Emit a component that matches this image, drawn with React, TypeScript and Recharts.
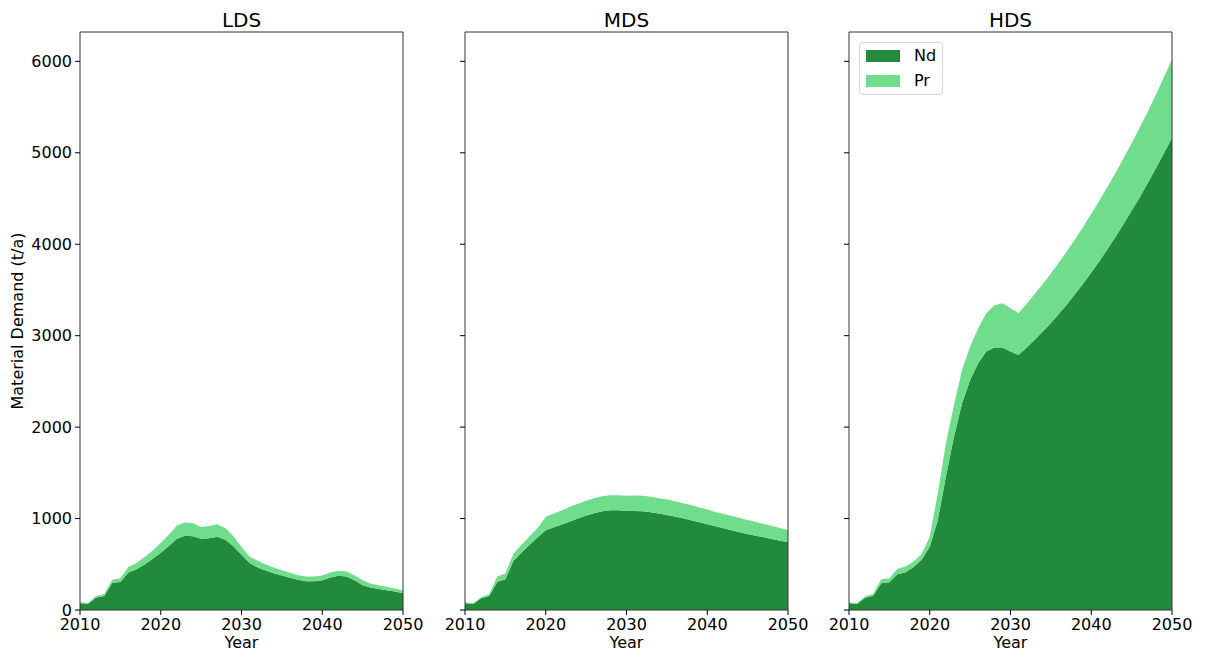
import React from 'react';
import { AreaChart, Area, XAxis, YAxis, Legend } from 'recharts';

// Material demand for Nd and Pr (t/a) under three demand scenarios.
const years = [
  2010, 2011, 2012, 2013, 2014, 2015, 2016, 2017, 2018, 2019,
  2020, 2021, 2022, 2023, 2024, 2025, 2026, 2027, 2028, 2029,
  2030, 2031, 2032, 2033, 2034, 2035, 2036, 2037, 2038, 2039,
  2040, 2041, 2042, 2043, 2044, 2045, 2046, 2047, 2048, 2049, 2050,
];

const ldsNd = [
  73, 68, 138, 152, 297, 305, 410, 447, 498, 560,
  626, 700, 780, 813, 806, 780, 784, 802, 769, 696,
  604, 513, 465, 432, 403, 377, 352, 330, 315, 315,
  326, 355, 374, 366, 326, 271, 245, 231, 216, 201, 183,
];
const ldsPr = [
  11, 9, 16, 24, 33, 43, 59, 66, 81, 92,
  107, 124, 143, 143, 143, 128, 135, 136, 125, 110,
  85, 73, 73, 66, 62, 59, 55, 51, 51, 51,
  51, 55, 55, 55, 55, 55, 41, 40, 37, 33, 29,
];

const mdsNd = [
  73, 66, 128, 154, 308, 337, 538, 630, 714, 795,
  872, 905, 934, 967, 1000, 1033, 1059, 1081, 1092, 1092,
  1084, 1084, 1081, 1070, 1055, 1040, 1022, 1004, 982, 960,
  938, 916, 894, 872, 850, 832, 813, 795, 777, 758, 744,
];
const mdsPr = [
  11, 7, 11, 18, 58, 62, 77, 84, 92, 102,
  148, 150, 154, 161, 161, 161, 164, 164, 164, 164,
  165, 169, 168, 168, 168, 169, 168, 164, 165, 161,
  161, 157, 157, 157, 157, 153, 150, 146, 142, 139, 128,
];

const hdsNd = [
  73, 66, 135, 157, 293, 304, 392, 414, 469, 549,
  693, 985, 1459, 1896, 2261, 2516, 2699, 2826, 2870, 2870,
  2826, 2790, 2870, 2955, 3045, 3140, 3240, 3345, 3455, 3570,
  3690, 3815, 3945, 4080, 4220, 4365, 4515, 4670, 4830, 4995, 5165,
];
const hdsPr = [
  11, 7, 15, 19, 44, 44, 59, 62, 62, 63,
  109, 292, 365, 347, 365, 365, 383, 420, 463, 485,
  475, 456, 480, 500, 520, 540, 560, 580, 600, 620,
  640, 660, 680, 700, 720, 740, 760, 780, 805, 830, 855,
];

const xTicks = [2010, 2020, 2030, 2040, 2050];
const yTicks = [0, 1000, 2000, 3000, 4000, 5000, 6000];
const Y_MAX = 6321;

const ND_COLOR = '#228B3B';
const PR_COLOR = '#6FDD8B';
const SPINE = '#333333';
const FONT = '"DejaVu Sans", sans-serif';

const PLOT_W = 323;
const CHART_H = 652;

const renderLegend = (props: any) => {
  const items = props.payload || [];
  return (
    <div
      style={{
        width: 82,
        height: 51,
        border: '1px solid #d6d6d6',
        borderRadius: 4,
        background: 'rgba(255,255,255,0.8)',
        position: 'relative',
        fontFamily: FONT,
        fontSize: 16,
        color: '#000',
      }}
    >
      {items.map((it: any, i: number) => (
        <div key={it.value} style={{ position: 'absolute', left: 6, top: 6 + i * 25, height: 13, display: 'flex', alignItems: 'center' }}>
          <div style={{ width: 34, height: 12, background: it.color }} />
          <span style={{ marginLeft: 14, lineHeight: '13px' }}>{it.value}</span>
        </div>
      ))}
    </div>
  );
};

type PanelProps = {
  title: string;
  nd: number[];
  pr: number[];
  left: number;
  first?: boolean;
  legend?: boolean;
};

const Panel = ({ title, nd, pr, left, first, legend }: PanelProps) => {
  const data = years.map((y, i) => ({ year: y, Nd: nd[i], Pr: pr[i] }));
  const yW = first ? 80 : 20;
  const width = yW + PLOT_W + 20;
  return (
    <div style={{ position: 'absolute', left, top: 0 }}>
      <AreaChart width={width} height={CHART_H} data={data} margin={{ top: 0, right: 0, bottom: 0, left: 0 }}>
        <XAxis
          dataKey="year"
          type="number"
          domain={[2010, 2050]}
          ticks={xTicks}
          height={42}
          tickSize={5}
          tickMargin={4}
          stroke={SPINE}
          tick={{ fill: '#000', fontSize: 16, fontFamily: FONT }}
          tickLine={{ stroke: '#000' }}
          label={(p: any) => {
            const vb = p.viewBox;
            return (
              <text x={vb.x + vb.width / 2} y={vb.y + 38} textAnchor="middle" fontSize={16} fontFamily={FONT} fill="#000">
                Year
              </text>
            );
          }}
        />
        <XAxis
          xAxisId="top"
          orientation="top"
          dataKey="year"
          type="number"
          domain={[2010, 2050]}
          height={32}
          tick={false}
          tickLine={false}
          stroke={SPINE}
          label={(p: any) => {
            const vb = p.viewBox;
            return (
              <text x={vb.x + vb.width / 2} y={vb.y + 27} textAnchor="middle" fontSize={20} fontFamily={FONT} fill="#000">
                {title}
              </text>
            );
          }}
        />
        <YAxis
          type="number"
          domain={[0, Y_MAX]}
          ticks={yTicks}
          width={yW}
          tickSize={5}
          tickMargin={3}
          stroke={SPINE}
          tickLine={{ stroke: '#000' }}
          tick={{ fill: '#000', fontSize: 16, fontFamily: FONT }}
          tickFormatter={first ? (v: number) => String(v) : () => ''}
          label={
            first
              ? (p: any) => {
                  const vb = p.viewBox;
                  const x = vb.x + 22.5;
                  const y = vb.y + vb.height / 2;
                  return (
                    <text x={x} y={y} transform={`rotate(-90, ${x}, ${y})`} textAnchor="middle" fontSize={16} fontFamily={FONT} fill="#000">
                      Material Demand (t/a)
                    </text>
                  );
                }
              : undefined
          }
        />
        <YAxis yAxisId="r" orientation="right" type="number" domain={[0, 1]} width={20} tick={false} tickLine={false} stroke={SPINE} />
        {legend && (
          <Legend
            layout="vertical"
            align="center"
            verticalAlign="middle"
            content={renderLegend}
            wrapperStyle={{ left: yW + 10, top: 42, width: 84 }}
          />
        )}
        <Area
          type="linear"
          dataKey="Nd"
          name="Nd"
          stackId="a"
          stroke="none"
          fill={ND_COLOR}
          fillOpacity={1}
          legendType="rect"
          dot={false}
          activeDot={false}
          isAnimationActive={false}
        />
        <Area
          type="linear"
          dataKey="Pr"
          name="Pr"
          stackId="a"
          stroke="none"
          fill={PR_COLOR}
          fillOpacity={1}
          legendType="rect"
          dot={false}
          activeDot={false}
          isAnimationActive={false}
        />
      </AreaChart>
    </div>
  );
}

export default function App() {
  return (
    <div style={{ position: 'absolute', left: 0, top: 0, width: 1208, height: 652, background: '#fff', fontFamily: FONT }}>
      <Panel title="LDS" nd={ldsNd} pr={ldsPr} left={0} first />
      <Panel title="MDS" nd={mdsNd} pr={mdsPr} left={445} />
      <Panel title="HDS" nd={hdsNd} pr={hdsPr} left={829} legend />
    </div>
  );
}
